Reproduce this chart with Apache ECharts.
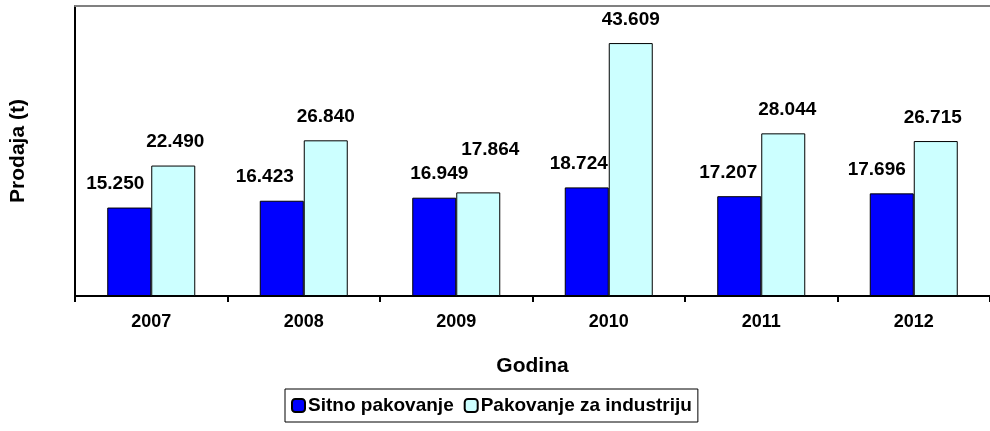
<!DOCTYPE html>
<html>
<head>
<meta charset="utf-8">
<script src="https://cdn.jsdelivr.net/npm/echarts@6/dist/echarts.min.js"></script>
<style>
  html, body { margin: 0; padding: 0; background: #fff; }
  #chart { width: 990px; height: 431px; }
</style>
</head>
<body>
<div id="chart"></div>
<script>
var years = ['2007', '2008', '2009', '2010', '2011', '2012'];
var sitno = [15.250, 16.423, 16.949, 18.724, 17.207, 17.696];
var industrija = [22.490, 26.840, 17.864, 43.609, 28.044, 26.715];
var seriesNames = ['Sitno pakovanje', 'Pakovanje za industriju'];

// label nudges (px), as the labels sit in the original
var sitnoLabelShift = [[-14, 0], [-17, 0], [5, 0], [-8, 0], [-11, 0], [-15, 0]];
var industrijaLabelShift = [[2, 0], [0, 0], [12, -19], [0, 0], [4, 0], [-3, 0]];

var font = 'Arial, "Liberation Sans", sans-serif';

function fmt(v) {
    return v.toFixed(3);
}

function withLabels(values, shifts) {
    return values.map(function (v, i) {
        return { value: v, label: { offset: shifts[i] } };
    });
}

var myChart = echarts.init(document.getElementById('chart'));
var option = {
    animation: false,
    textStyle: { fontFamily: font },
    grid: { left: 74, right: -6, top: 6, bottom: 135, show: false },
    legend: {
        data: seriesNames,
        left: 285,
        top: 389,
        padding: [7, 6, 7, 6],
        itemGap: 10,
        itemWidth: 13,
        itemHeight: 13,
        borderColor: '#000',
        borderWidth: 1,
        textStyle: { fontSize: 19, fontWeight: 'bold', color: '#000', fontFamily: font, padding: [0, 0, 0, -2] }
    },
    xAxis: [{
        type: 'category',
        data: years,
        name: 'Godina',
        nameLocation: 'middle',
        nameGap: 60,
        nameTextStyle: { fontSize: 21, fontWeight: 'bold', color: '#000' },
        axisLine: { lineStyle: { color: '#000', width: 2 } },
        axisTick: { show: true, length: 6, lineStyle: { color: '#000', width: 2 } },
        axisLabel: { fontSize: 18, fontWeight: 'bold', color: '#000', margin: 17 }
    }, {
        type: 'category',
        data: years,
        position: 'top',
        axisLine: { lineStyle: { color: '#808080', width: 2 } },
        axisTick: { show: false },
        axisLabel: { show: false }
    }],
    yAxis: {
        type: 'value',
        min: 0,
        max: 50,
        name: 'Prodaja (t)',
        nameLocation: 'middle',
        nameGap: 46,
        nameTextStyle: { fontSize: 21, fontWeight: 'bold', color: '#000' },
        axisLine: { show: true, lineStyle: { color: '#000', width: 2 } },
        axisTick: { show: false },
        axisLabel: { show: false },
        splitLine: { show: false }
    },
    series: [{
        name: seriesNames[0],
        type: 'bar',
        data: withLabels(sitno, sitnoLabelShift),
        barWidth: 44,
        barGap: '0%',
        itemStyle: { color: '#0000FF', borderColor: '#000', borderWidth: 1 },
        label: {
            show: true,
            position: 'top',
            distance: 14,
            formatter: function (p) { return fmt(p.value); },
            fontSize: 19,
            fontWeight: 'bold',
            color: '#000'
        }
    }, {
        name: seriesNames[1],
        type: 'bar',
        data: withLabels(industrija, industrijaLabelShift),
        barWidth: 44,
        itemStyle: { color: '#CCFFFF', borderColor: '#000', borderWidth: 1 },
        label: {
            show: true,
            position: 'top',
            distance: 14,
            formatter: function (p) { return fmt(p.value); },
            fontSize: 19,
            fontWeight: 'bold',
            color: '#000'
        }
    }]
};
myChart.setOption(option);
window.addEventListener('resize', function () {
    myChart.resize();
});
</script>
</body>
</html>
